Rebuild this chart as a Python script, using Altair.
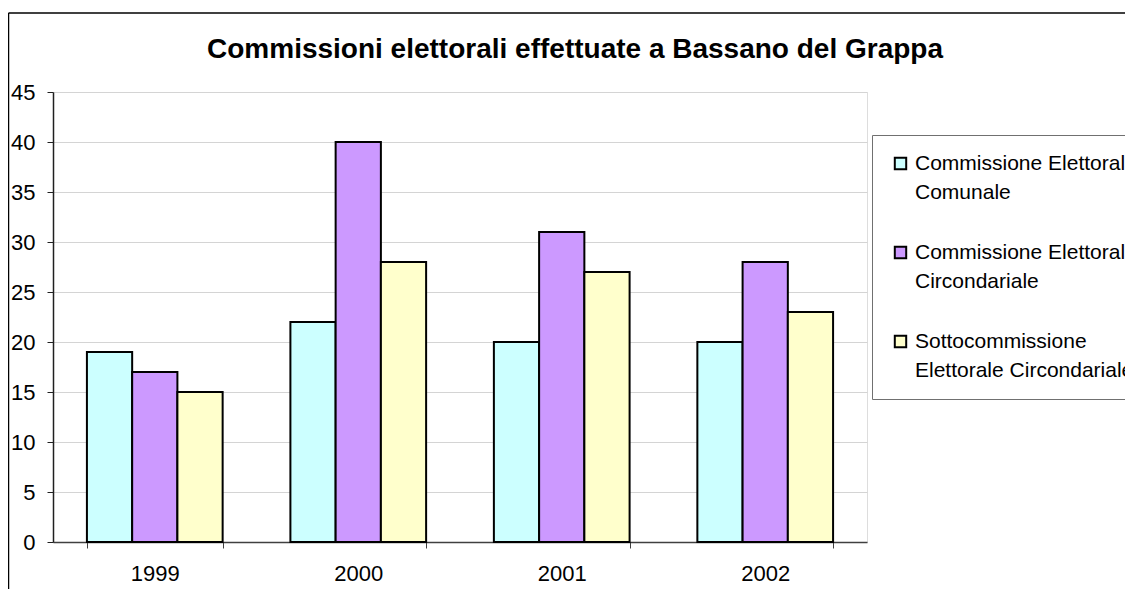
import altair as alt
import pandas as pd

years = ["1999", "2000", "2001", "2002"]
series = [
    "Commissione Elettorale Comunale",
    "Commissione Elettorale Circondariale",
    "Sottocommissione Elettorale Circondariale",
]
values_comunale = [19, 22, 20, 20]
values_circondariale = [17, 40, 31, 28]
values_sotto = [15, 28, 27, 23]
colors = ["#CCFFFF", "#CC99FF", "#FFFFCC"]
y_ticks = [0, 5, 10, 15, 20, 25, 30, 35, 40, 45]

rows = []
for s, vals in zip(series, [values_comunale, values_circondariale, values_sotto]):
    for y, v in zip(years, vals):
        rows.append({"Anno": y, "Serie": s, "Valore": v})
df = pd.DataFrame(rows)

FONT = "Liberation Sans"

label_expr = (
    "datum.label == 'Commissione Elettorale Comunale' ? ['Commissione Elettorale', 'Comunale'] : "
    "datum.label == 'Commissione Elettorale Circondariale' ? ['Commissione Elettorale', 'Circondariale'] : "
    "['Sottocommissione', 'Elettorale Circondariale']"
)

bars = alt.Chart(df).mark_bar(stroke="black", strokeWidth=2).encode(
    x=alt.X(
        "Anno:N",
        sort=years,
        title=None,
        scale=alt.Scale(paddingInner=0.333, paddingOuter=0.1667),
        axis=alt.Axis(
            labelAngle=0,
            labelFontSize=22,
            labelFont=FONT,
            labelColor="black",
            labelPadding=15,
            labelLineHeight=24,
            domainColor="#404040",
            domainWidth=1.5,
            tickColor="#404040",
            tickSize=6,
            tickBand="extent",
            grid=False,
        ),
    ),
    xOffset=alt.XOffset("Serie:N", sort=series, scale=alt.Scale(paddingInner=0, paddingOuter=0)),
    y=alt.Y(
        "Valore:Q",
        title=None,
        scale=alt.Scale(domain=[0, 45], nice=False),
        axis=alt.Axis(
            values=y_ticks,
            labelFontSize=22,
            labelFont=FONT,
            labelColor="black",
            labelPadding=12,
            labelLineHeight=24,
            domainColor="#202020",
            domainWidth=1.5,
            tickColor="#202020",
            tickSize=6,
            gridColor="#d4d4d4",
            gridWidth=1,
        ),
    ),
    fill=alt.Fill(
        "Serie:N",
        sort=series,
        scale=alt.Scale(domain=series, range=colors),
        legend=alt.Legend(
            title=None,
            orient="none",
            legendX=819,
            legendY=43,
            padding=18,
            strokeColor="#707070",
            fillColor="white",
            symbolType="square",
            symbolSize=130,
            symbolStrokeColor="black",
            symbolStrokeWidth=2,
            labelFontSize=21,
            labelFont=FONT,
            labelColor="black",
            labelLimit=400,
            labelExpr=label_expr,
            labelOffset=4,
            rowPadding=38,
        ),
    ),
)

frame_df = pd.DataFrame({"k": [0]})
frame_left = alt.Chart(frame_df).mark_rule(color="black", strokeWidth=1.5).encode(
    x=alt.value(-44.5), y=alt.value(-79), y2=alt.value(520)
)
frame_top = alt.Chart(frame_df).mark_rule(color="black", strokeWidth=1.5).encode(
    x=alt.value(-44.5), x2=alt.value(1100), y=alt.value(-79)
)

chart = alt.layer(frame_left, frame_top, bars).properties(
    width=814,
    height=450,
    padding={"left": 45, "top": 84, "right": 258, "bottom": 47},
    autosize=alt.AutoSizeParams(type="none"),
    title=alt.Title(
        "Commissioni elettorali effettuate a Bassano del Grappa",
        fontSize=28,
        font=FONT,
        fontWeight="bold",
        color="black",
        anchor="middle",
        baseline="alphabetic",
        dx=115,
        offset=-74,
    ),
).configure_view(stroke="#808080", strokeWidth=2).configure(
    background="white",
    style={"guide-label": {"lineHeight": 29}},
)

chart.save("out.html", embed_options={"renderer": "svg", "actions": False})
